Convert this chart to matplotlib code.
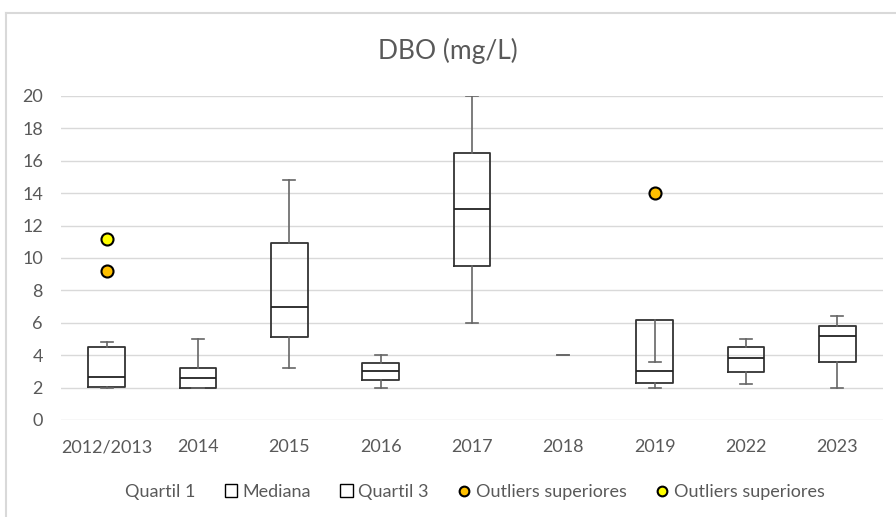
import matplotlib.pyplot as plt
from matplotlib.patches import Patch
from matplotlib.lines import Line2D

# dados (DBO mg/L)
anos = ['2012/2013', '2014', '2015', '2016', '2017', '2018', '2019', '2022', '2023']
minimo = [2.0, 2.0, 3.2, 2.0, 6.0, 4.0, 2.0, 2.2, 2.0]
quartil1 = [2.06, 2.0, 5.14, 2.47, 9.5, 4.0, 2.26, 2.94, 3.6]
mediana = [2.63, 2.6, 7.0, 3.0, 13.0, 4.0, 3.0, 3.8, 5.2]
quartil3 = [4.49, 3.2, 10.9, 3.54, 16.5, 4.0, 6.2, 4.53, 5.8]
maximo = [4.8, 5.0, 14.8, 4.0, 20.0, 4.0, 3.6, 5.0, 6.4]

# outliers (duas séries)
out1_idx = [0, 6]
out1_val = [9.2, 14.0]
out2_idx = [0]
out2_val = [11.2]

cinza = '#595959'
plt.rcParams['font.family'] = ['Lato', 'DejaVu Sans']

fig = plt.figure(figsize=(8.96, 5.17), dpi=100)
ax = fig.add_axes([61 / 896, 97 / 517, 822 / 896, 324 / 517])

stats = []
for i in range(len(anos)):
    stats.append({'med': mediana[i], 'q1': quartil1[i], 'q3': quartil3[i],
                  'whislo': minimo[i], 'whishi': maximo[i], 'fliers': []})

# 2018 só tem a barra de erro visível
larguras = [0.12 if quartil3[i] == quartil1[i] else 0.4 for i in range(len(anos))]

res = ax.bxp(stats, positions=range(len(anos)), widths=larguras, capwidths=0.13,
             showfliers=False,
             boxprops=dict(color='#333333', linewidth=1.3),
             medianprops=dict(color='#222222', linewidth=1.3),
             whiskerprops=dict(color='#666666', linewidth=1.2),
             capprops=dict(color='#666666', linewidth=1.2))

# caixas sem altura: deixar só o traço cinza
for i in range(len(anos)):
    if quartil3[i] == quartil1[i]:
        res['boxes'][i].set_visible(False)
        res['medians'][i].set_visible(False)

ax.scatter(out1_idx, out1_val, s=75, color='#FFC000', edgecolor='black', linewidth=1.5, zorder=5)
ax.scatter(out2_idx, out2_val, s=75, color='#FFFF00', edgecolor='black', linewidth=1.5, zorder=5)

ax.set_xlim(-0.5, len(anos) - 0.5)
ax.set_ylim(0, 20)
ax.set_yticks(range(0, 21, 2))
ax.set_xticks(range(len(anos)))
ax.set_xticklabels(anos)
ax.yaxis.grid(True, color='#d9d9d9', linewidth=1)
ax.set_axisbelow(True)
for s in ax.spines.values():
    s.set_visible(False)
ax.tick_params(axis='both', length=0, colors=cinza, labelsize=13)
ax.tick_params(axis='x', pad=14)
ax.tick_params(axis='y', pad=13)

fig.text(0.5, 1 - 51 / 517, 'DBO (mg/L)', ha='center', va='center', fontsize=19, color=cinza)

# borda do gráfico (só topo e esquerda aparecem)
fig.add_artist(Line2D([6 / 896, 6 / 896], [0, 1 - 13 / 517], transform=fig.transFigure,
                      color='#d9d9d9', linewidth=1.5))
fig.add_artist(Line2D([6 / 896, 1], [1 - 13 / 517, 1 - 13 / 517], transform=fig.transFigure,
                      color='#d9d9d9', linewidth=1.5))

handles = [
    Patch(facecolor='none', edgecolor='none'),
    Patch(facecolor='white', edgecolor='black', linewidth=1),
    Patch(facecolor='white', edgecolor='black', linewidth=1),
    Line2D([], [], linestyle='none', marker='o', markersize=7, markerfacecolor='#FFC000',
           markeredgecolor='black', markeredgewidth=1.5),
    Line2D([], [], linestyle='none', marker='o', markersize=7, markerfacecolor='#FFFF00',
           markeredgecolor='black', markeredgewidth=1.5),
]
labels = ['Quartil 1', 'Mediana', 'Quartil 3', 'Outliers superiores', 'Outliers superiores']
fig.legend(handles, labels, loc='center', bbox_to_anchor=(0.52, 1 - 492 / 517), ncol=5,
           frameon=False, fontsize=13, labelcolor=cinza, handlelength=0.7, handleheight=0.7,
           handletextpad=0.3, columnspacing=1.6)

plt.savefig('out.png', dpi=100)
